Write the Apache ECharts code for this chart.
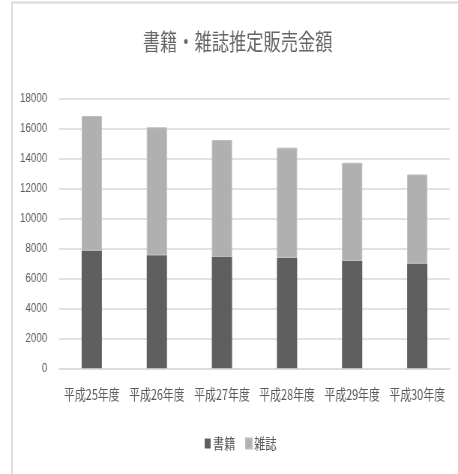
<!DOCTYPE html>
<html>
<head>
<meta charset="utf-8">
<script src="https://cdn.jsdelivr.net/npm/echarts@6/dist/echarts.min.js"></script>
<style>
  html, body { margin: 0; padding: 0; background: #fff; overflow: hidden; }
  #wrap { width: 458px; height: 474px; overflow: hidden; }
  /* the chart is laid out wide and then condensed horizontally */
  #chart { width: 611px; height: 474px; transform: scaleX(0.7496); transform-origin: 0 0; }
</style>
</head>
<body>
<div id="wrap"><div id="chart"></div></div>
<script>
const titleText = '書籍・雑誌推定販売金額';
const categories = ['平成25年度', '平成26年度', '平成27年度', '平成28年度', '平成29年度', '平成30年度'];
const seriesNames = ['書籍', '雑誌'];
const booksValues = [7851, 7544, 7419, 7370, 7152, 6991];
const magazineValues = [8972, 8520, 7801, 7339, 6548, 5930];
const yTicks = [0, 2000, 4000, 6000, 8000, 10000, 12000, 14000, 16000, 18000];

const textColor = '#595959';
const font = '"Noto Sans CJK JP", "Noto Sans", sans-serif';

const chart = echarts.init(document.getElementById('chart'), null, { renderer: 'canvas' });

chart.setOption({
  backgroundColor: '#ffffff',
  animation: false,
  title: {
    text: titleText,
    left: 317,
    top: 30,
    textAlign: 'center',
    padding: 0,
    textStyle: { fontFamily: font, fontSize: 23, fontWeight: 'normal', color: '#666666' }
  },
  graphic: [{
    type: 'rect',
    shape: { x: 16, y: 2.5, width: 700, height: 600 },
    style: { fill: 'none', stroke: '#d9d9d9', lineWidth: 2 },
    silent: true,
    z: -1
  }],
  legend: {
    data: seriesNames,
    left: 273,
    top: 436,
    padding: 0,
    icon: 'rect',
    itemWidth: 8,
    itemHeight: 10,
    itemGap: 13,
    textStyle: { fontFamily: font, fontSize: 15, color: textColor, padding: [0, 0, 0, -2] }
  },
  grid: { left: 79, right: 11, top: 98.3, bottom: 105.7, containLabel: false },
  xAxis: {
    type: 'category',
    data: categories,
    axisLine: { show: true, lineStyle: { color: '#d9d9d9', width: 1.5 } },
    axisTick: { show: false },
    axisLabel: { fontFamily: font, fontSize: 14.5, color: textColor, margin: 19, interval: 0 }
  },
  yAxis: {
    type: 'value',
    min: yTicks[0],
    max: yTicks[yTicks.length - 1],
    interval: yTicks[1] - yTicks[0],
    axisLine: { show: false },
    axisTick: { show: false },
    splitLine: { lineStyle: { color: '#d9d9d9', width: 1.5 } },
    axisLabel: {
      fontFamily: '"Liberation Sans", Arial, sans-serif',
      fontSize: 13,
      color: textColor,
      margin: 16,
      formatter: (v) => String(v)
    }
  },
  series: [
    {
      name: seriesNames[0],
      type: 'bar',
      stack: 'total',
      data: booksValues,
      barWidth: 27,
      itemStyle: { color: '#5f5f5f' }
    },
    {
      name: seriesNames[1],
      type: 'bar',
      stack: 'total',
      data: magazineValues,
      barWidth: 27,
      itemStyle: { color: '#b0b0b0', borderColor: '#bdbdbd', borderWidth: 1 }
    }
  ]
});
</script>
</body>
</html>
